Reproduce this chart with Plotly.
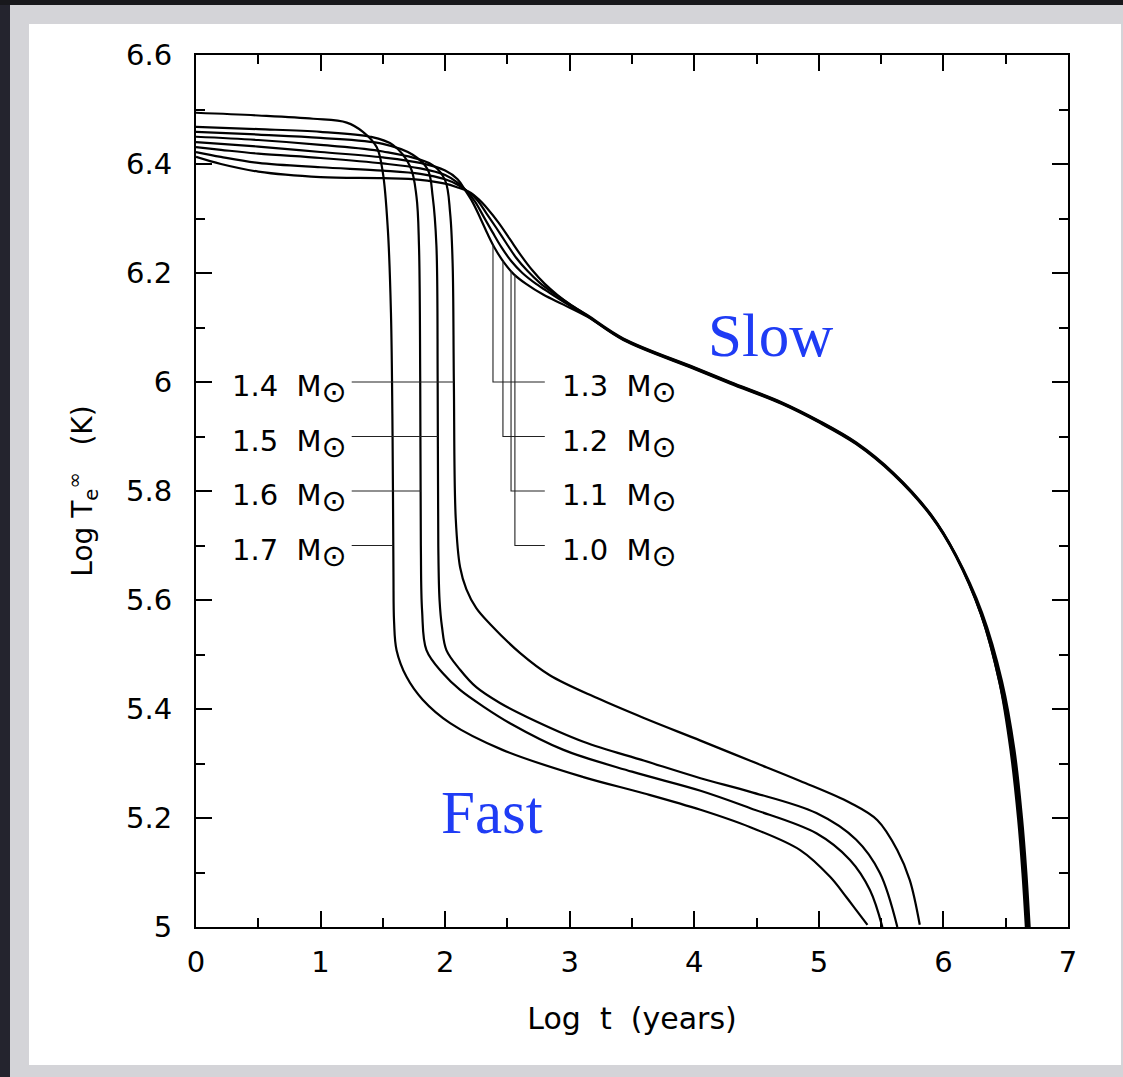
import numpy as np
import plotly.graph_objects as go

# ---------------- data ----------------
# Fast-cooling (high mass) tracks: log t (years), log Te_inf (K)
t_17 = [0, 0.5, 0.94, 1.21, 1.34, 1.45, 1.50, 1.54, 1.565, 1.578, 1.585, 1.59, 1.61, 1.69, 1.82, 2.04, 2.46, 3.11, 3.6, 4.05, 4.45, 4.85, 5.09, 5.22, 5.30, 5.39]
te_17 = [6.494, 6.489, 6.483, 6.476, 6.459, 6.431, 6.384, 6.28, 6.127, 5.90, 5.65, 5.56, 5.508, 5.459, 5.417, 5.374, 5.325, 5.275, 5.245, 5.215, 5.183, 5.141, 5.092, 5.055, 5.031, 5.004]

t_16 = [0, 0.5, 1.0, 1.4, 1.58, 1.72, 1.77, 1.79, 1.80, 1.805, 1.815, 1.85, 1.98, 2.12, 2.31, 2.52, 2.95, 3.5, 4.05, 4.45, 4.98, 5.25, 5.41, 5.51]
te_16 = [6.468, 6.464, 6.459, 6.450, 6.435, 6.395, 6.34, 6.25, 6.0, 5.70, 5.58, 5.508, 5.466, 5.435, 5.404, 5.374, 5.325, 5.285, 5.250, 5.218, 5.172, 5.123, 5.068, 5.0]

t_15 = [0, 0.5, 1.0, 1.5, 1.74, 1.86, 1.90, 1.93, 1.94, 1.945, 1.955, 1.975, 2.01, 2.12, 2.25, 2.44, 2.66, 3.11, 3.6, 4.05, 4.45, 4.98, 5.30, 5.49, 5.63]
te_15 = [6.459, 6.454, 6.448, 6.437, 6.417, 6.39, 6.34, 6.25, 6.0, 5.70, 5.60, 5.55, 5.508, 5.472, 5.44, 5.411, 5.385, 5.340, 5.305, 5.273, 5.248, 5.209, 5.16, 5.099, 5.0]

t_14 = [0, 0.5, 1.0, 1.5, 1.9, 2.0, 2.04, 2.06, 2.07, 2.085, 2.12, 2.17, 2.25, 2.36, 2.6, 2.84, 3.22, 3.6, 4.05, 4.45, 4.85, 5.25, 5.47, 5.63, 5.73, 5.81]
te_14 = [6.450, 6.444, 6.435, 6.423, 6.398, 6.37, 6.31, 6.218, 6.0, 5.75, 5.66, 5.62, 5.585, 5.556, 5.503, 5.462, 5.420, 5.383, 5.342, 5.305, 5.268, 5.228, 5.196, 5.141, 5.086, 5.004]

# Slow-cooling (low mass) tracks
t_13 = [0, 0.2, 0.5, 1.0, 1.5, 1.8, 2.0, 2.1, 2.16, 2.22, 2.28, 2.34, 2.40, 2.47, 2.55, 2.65, 2.79, 2.95, 3.14, 3.43, 4.0, 4.29, 4.7, 5.0, 5.3, 5.6, 5.9, 6.1, 6.3, 6.45, 6.54, 6.60, 6.635, 6.662]
te_13 = [6.440, 6.437, 6.432, 6.422, 6.412, 6.402, 6.388, 6.372, 6.352, 6.330, 6.302, 6.272, 6.245, 6.220, 6.198, 6.180, 6.160, 6.142, 6.120, 6.077, 6.024, 5.997, 5.960, 5.926, 5.886, 5.830, 5.754, 5.680, 5.574, 5.448, 5.322, 5.198, 5.098, 5.0]

t_12 = [0, 0.2, 0.5, 1.0, 1.5, 1.8, 2.0, 2.1, 2.17, 2.24, 2.31, 2.38, 2.45, 2.53, 2.62, 2.73, 2.85, 2.98, 3.14, 3.43, 4.0, 4.29, 4.7, 5.0, 5.3, 5.6, 5.9, 6.1, 6.3, 6.45, 6.55, 6.61, 6.645, 6.672]
te_12 = [6.431, 6.426, 6.419, 6.411, 6.401, 6.392, 6.380, 6.366, 6.351, 6.331, 6.303, 6.275, 6.248, 6.222, 6.200, 6.180, 6.162, 6.143, 6.121, 6.078, 6.025, 5.998, 5.961, 5.927, 5.887, 5.831, 5.755, 5.681, 5.575, 5.449, 5.323, 5.199, 5.099, 5.0]

t_11 = [0, 0.2, 0.5, 1.0, 1.5, 1.8, 2.0, 2.1, 2.18, 2.26, 2.33, 2.41, 2.49, 2.57, 2.66, 2.76, 2.87, 3.0, 3.14, 3.43, 4.0, 4.29, 4.7, 5.0, 5.3, 5.6, 5.9, 6.1, 6.3, 6.46, 6.56, 6.62, 6.655, 6.682]
te_11 = [6.422, 6.413, 6.402, 6.394, 6.388, 6.382, 6.372, 6.362, 6.350, 6.333, 6.310, 6.283, 6.255, 6.228, 6.204, 6.182, 6.163, 6.143, 6.122, 6.079, 6.026, 5.999, 5.962, 5.928, 5.888, 5.832, 5.756, 5.682, 5.576, 5.450, 5.324, 5.200, 5.100, 5.0]

t_10 = [0, 0.2, 0.5, 1.0, 1.5, 1.8, 2.0, 2.1, 2.19, 2.27, 2.34, 2.43, 2.52, 2.61, 2.70, 2.80, 2.90, 3.0, 3.14, 3.43, 4.0, 4.29, 4.7, 5.0, 5.3, 5.6, 5.9, 6.1, 6.31, 6.47, 6.57, 6.63, 6.665, 6.692]
te_10 = [6.413, 6.400, 6.386, 6.376, 6.374, 6.371, 6.364, 6.357, 6.349, 6.335, 6.318, 6.292, 6.262, 6.232, 6.205, 6.180, 6.160, 6.143, 6.123, 6.080, 6.027, 6.000, 5.963, 5.929, 5.889, 5.833, 5.757, 5.683, 5.577, 5.451, 5.325, 5.201, 5.101, 5.0]

fast_masses = ["1.4", "1.5", "1.6", "1.7"]
slow_masses = ["1.3", "1.2", "1.1", "1.0"]
label_levels = [6.0, 5.9, 5.8, 5.7]          # log Te of the mass labels
left_label_x = 0.27                          # log t where left labels start
right_label_x = 2.92                         # log t where right labels start
left_leader_start = 1.25
right_leader_end = 2.80
slow_leader_x = [2.384, 2.464, 2.529, 2.56]  # vertical leader positions (1.3..1.0)

x_ticks = [0, 1, 2, 3, 4, 5, 6, 7]
y_ticks = [5, 5.2, 5.4, 5.6, 5.8, 6, 6.2, 6.4, 6.6]

tracks = {
    "1.7": (t_17, te_17), "1.6": (t_16, te_16), "1.5": (t_15, te_15), "1.4": (t_14, te_14),
    "1.3": (t_13, te_13), "1.2": (t_12, te_12), "1.1": (t_11, te_11), "1.0": (t_10, te_10),
}

# ---------------- figure ----------------
W, H = 1123, 1077
L, R, T, B = 196, 55, 55, 150
PW, PH = W - L - R, H - T - B

fig = go.Figure()

for m, (tx, ty) in tracks.items():
    fig.add_trace(go.Scatter(x=tx, y=ty, mode="lines",
                             line=dict(color="black", width=2.2, shape="spline", smoothing=1.0),
                             hoverinfo="skip", showlegend=False))

lead = dict(color="#222222", width=1.1)
SUN = "\u2299"
NB = "\u00a0"
label_text = "{m}" + NB + NB + "M<sub><span style='font-size:30px'>" + SUN + "</span></sub>"
label_font = dict(family="DejaVu Sans", size=29, color="black")

# left leaders and labels (fast tracks)
for m, lev in zip(fast_masses, label_levels):
    tx, ty = tracks[m]
    x_end = float(np.interp(lev, ty[::-1], tx[::-1]))
    fig.add_trace(go.Scatter(x=[left_leader_start, x_end], y=[lev, lev], mode="lines",
                             line=lead, hoverinfo="skip", showlegend=False))
    fig.add_annotation(x=left_label_x, y=lev, xref="x", yref="y", xanchor="left", yanchor="middle",
                       text=label_text.format(m=m), showarrow=False, yshift=-7, font=label_font)

# right leaders and labels (slow tracks); verticals stop at the lowest slow track
t13, te13 = tracks["1.3"]
for m, lev, xv in zip(slow_masses, label_levels, slow_leader_x):
    top = float(np.interp(xv, t13, te13))
    fig.add_trace(go.Scatter(x=[xv, xv, right_leader_end], y=[top, lev, lev], mode="lines",
                             line=lead, hoverinfo="skip", showlegend=False))
    fig.add_annotation(x=right_label_x, y=lev, xref="x", yref="y", xanchor="left", yanchor="middle",
                       text=label_text.format(m=m), showarrow=False, yshift=-7, font=label_font)

fig.add_annotation(x=4.61, y=6.085, xref="x", yref="y", text="Slow", showarrow=False,
                   font=dict(family="Liberation Serif", size=61, color="#1f3cf5"))
fig.add_annotation(x=2.38, y=5.21, xref="x", yref="y", text="Fast", showarrow=False,
                   font=dict(family="Liberation Serif", size=61, color="#1f3cf5"))

# background panels (paper coordinates)
def px_x(p):
    return (p - L) / PW

def px_y(p):
    return (H - B - p) / PH

shapes = [
    dict(type="rect", xref="paper", yref="paper", x0=px_x(29), x1=px_x(1121), y0=px_y(1065), y1=px_y(24),
         fillcolor="white", line=dict(width=0), layer="below"),
    dict(type="rect", xref="paper", yref="paper", x0=px_x(0), x1=px_x(10), y0=px_y(H), y1=px_y(0),
         fillcolor="#24242e", line=dict(width=0), layer="below"),
    dict(type="rect", xref="paper", yref="paper", x0=px_x(0), x1=px_x(W), y0=px_y(5), y1=px_y(0),
         fillcolor="#18181c", line=dict(width=0), layer="below"),
]

tickfont = dict(family="DejaVu Sans", size=29, color="black")
axis_common = dict(showgrid=False, zeroline=False, showline=True, linecolor="black", linewidth=2,
                   mirror="ticks", ticks="inside", ticklen=16, tickwidth=2, tickcolor="black",
                   tickfont=tickfont)

fig.update_layout(
    width=W, height=H,
    margin=dict(l=L, r=R, t=T, b=B, autoexpand=False),
    paper_bgcolor="#d4d4d8", plot_bgcolor="rgba(0,0,0,0)",
    shapes=shapes,
    showlegend=False,
    xaxis=dict(range=[0, 7], tickvals=x_ticks, ticklabelstandoff=8, **axis_common,
               minor=dict(dtick=0.5, ticklen=9, tickwidth=2, tickcolor="black", ticks="inside"),
               title=dict(text="Log\u00a0\u00a0t\u00a0\u00a0(years)", standoff=30,
                          font=dict(family="DejaVu Sans", size=30, color="black"))),
    yaxis=dict(range=[5, 6.6], tickvals=y_ticks, ticklabelstandoff=16, **axis_common,
               minor=dict(dtick=0.1, ticklen=9, tickwidth=2, tickcolor="black", ticks="inside"),
               title=dict(text="Log\u00a0T<sub>e</sub><sup>\u221e</sup>\u00a0\u00a0\u00a0(K)", standoff=25,
                          font=dict(family="DejaVu Sans", size=28, color="black"))),
)

fig.write_html("out.html")
